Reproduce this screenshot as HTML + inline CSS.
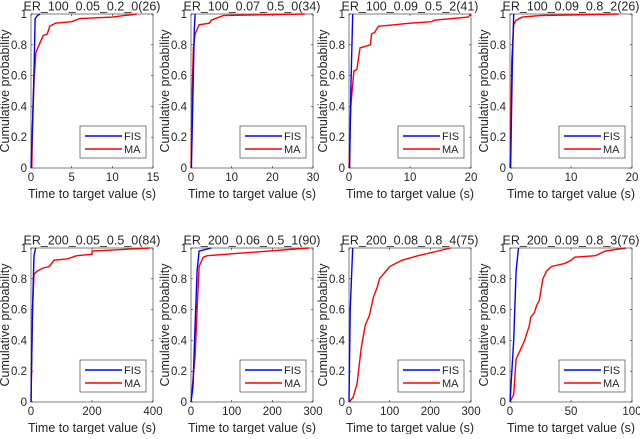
<!DOCTYPE html>
<html><head><meta charset="utf-8"><style>
body{margin:0;background:#fff;}
svg text{font-family:"Liberation Sans",sans-serif;fill:#262626;}
</style></head><body>
<svg id="fig" width="640" height="434" xmlns="http://www.w3.org/2000/svg"></svg>
<script>
const titles=["ER_100_0.05_0.2_0(26)","ER_100_0.07_0.5_0(34)","ER_100_0.09_0.5_2(41)","ER_100_0.09_0.8_2(26)","ER_200_0.05_0.5_0(84)","ER_200_0.06_0.5_1(90)","ER_200_0.08_0.8_4(75)","ER_200_0.09_0.8_3(76)"];
const xMaxes=[15,30,20,20,400,300,300,100];
const xTicks=[[0,5,10,15],[0,10,20,30],[0,10,20],[0,10,20],[0,200,400],[0,100,200,300],[0,100,200,300],[0,50,100]];
const yTicks=[0,0.2,0.4,0.6,0.8,1];
const fisSeries=[
[[0,0],[0.2,0.3],[0.4,0.7],[0.5,0.97],[0.8,0.99],[1.1,1]],
[[0.1,0],[0.5,0.5],[0.8,0.9],[1,1]],
[[0.1,0],[0.3,0.5],[0.6,1]],
[[0.1,0],[0.4,0.7],[0.6,1]],
[[0,0],[5,0.6],[10,0.95],[15,1]],
[[0,0],[5,0.1],[10,0.5],[15,0.85],[20,0.98],[50,1]],
[[0,0],[3,0.6],[9,1]],
[[0,0],[3,0.4],[5,0.85],[7,1]]];
const maSeries=[
[[0.1,0],[0.2,0.3],[0.4,0.6],[0.6,0.75],[1,0.8],[1.5,0.86],[2,0.87],[2.3,0.92],[3,0.94],[5,0.95],[6,0.97],[10,0.98],[13,1]],
[[0,0],[0.3,0.5],[0.6,0.78],[1,0.87],[1.5,0.9],[2,0.93],[4.5,0.94],[5,0.96],[8,0.99],[28,1]],
[[0,0],[0.3,0.4],[0.5,0.5],[0.8,0.63],[1.3,0.64],[1.8,0.78],[3.5,0.8],[3.7,0.87],[4.2,0.88],[4.8,0.92],[10,0.94],[13.5,0.95],[14,0.96],[19.5,0.98],[20,1]],
[[0,0],[0.3,0.7],[0.6,0.93],[1,0.96],[2,0.98],[5,0.99],[17.8,1]],
[[0,0],[5,0.6],[10,0.83],[20,0.85],[40,0.87],[60,0.88],[75,0.92],[120,0.93],[150,0.95],[200,0.96],[200,0.98],[250,0.985],[390,1]],
[[0,0],[10,0.3],[15,0.6],[20,0.88],[30,0.94],[40,0.95],[140,0.97],[290,1]],
[[0,0],[10,0.03],[20,0.12],[30,0.35],[40,0.5],[50,0.56],[60,0.68],[70,0.75],[75,0.8],[100,0.88],[130,0.92],[170,0.95],[250,1]],
[[0,0],[3,0.05],[5,0.28],[8,0.33],[12,0.4],[16,0.5],[17,0.55],[20,0.58],[22,0.63],[24,0.66],[27,0.8],[30,0.85],[34,0.88],[45,0.9],[50,0.92],[53,0.94],[70,0.95],[78,0.98],[95,1]]];

const NS="http://www.w3.org/2000/svg";
const svg=document.getElementById('fig');
const X0=[31,191,349,510],Y0=[14,248],W=122,H=154;
function mk(tag,attrs,parent){const e=document.createElementNS(NS,tag);for(const k in attrs)e.setAttribute(k,attrs[k]);(parent||svg).appendChild(e);return e;}
for(let i=0;i<8;i++){
  const x0=X0[i%4],y0=Y0[Math.floor(i/4)];
  const sx=v=>x0+v/xMaxes[i]*W, sy=v=>y0+H-v*H;
  const g=mk('g',{});
  
  
  mk('rect',{x:x0,y:y0,width:W,height:H,fill:'#fff',stroke:'#262626','stroke-width':0.6},g);
  yTicks.forEach(t=>{const y=sy(t);
    mk('line',{x1:x0,x2:x0+2,y1:y,y2:y,stroke:'#262626','stroke-width':0.6},g);
    mk('line',{x1:x0+W,x2:x0+W-2,y1:y,y2:y,stroke:'#262626','stroke-width':0.6},g);
    const tx=mk('text',{x:x0-4,y:y+4,'text-anchor':'end','font-size':11.5},g);tx.textContent=String(t);
    
    });
  xTicks[i].forEach(t=>{const x=sx(t);
    mk('line',{x1:x,x2:x,y1:y0+H,y2:y0+H-2,stroke:'#262626','stroke-width':0.6},g);
    mk('line',{x1:x,x2:x,y1:y0,y2:y0+2,stroke:'#262626','stroke-width':0.6},g);
    const tx=mk('text',{x:x,y:y0+H+13,'text-anchor':'middle','font-size':11.5},g);tx.textContent=String(t);
    
    });
  const tt=mk('text',{x:x0+W/2,y:y0-3.5,'text-anchor':'middle','font-size':12.5,fill:'#000'},g);tt.textContent=titles[i];
  
  
  const xl=mk('text',{x:x0+W/2,y:y0+H+30,'text-anchor':'middle','font-size':12.5},g);xl.textContent='Time to target value (s)';
  
  
  const yl=mk('text',{x:0,y:0,'text-anchor':'middle','font-size':12.5,transform:`translate(${x0-22},${y0+H/2}) rotate(-90)`},g);yl.textContent='Cumulative probability';
  
  
  const pts=s=>s.map(p=>sx(p[0]).toFixed(1)+','+sy(p[1]).toFixed(1)).join(' ');
  const ma=mk('polyline',{points:pts(maSeries[i]),fill:'none',stroke:'#ff0000','stroke-width':1.4},g);
  
  
  const fi=mk('polyline',{points:pts(fisSeries[i]),fill:'none',stroke:'#0000ff','stroke-width':1.4},g);
  
  
  const lx=x0+W-73,ly=y0+H-42;
  const lg=mk('g',{},g);
  
  
  mk('rect',{x:lx,y:ly,width:66,height:32,fill:'#fff',stroke:'#262626','stroke-width':0.6},lg);
  mk('line',{x1:lx+5,x2:lx+42,y1:ly+10,y2:ly+10,stroke:'#0000ff','stroke-width':1.4},lg);
  mk('line',{x1:lx+5,x2:lx+42,y1:ly+23,y2:ly+23,stroke:'#ff0000','stroke-width':1.4},lg);
  const l1=mk('text',{x:lx+44,y:ly+14,'font-size':11,fill:'#000'},lg);l1.textContent='FIS';
  const l2=mk('text',{x:lx+44,y:ly+27,'font-size':11,fill:'#000'},lg);l2.textContent='MA';
}
</script>
</body></html>
